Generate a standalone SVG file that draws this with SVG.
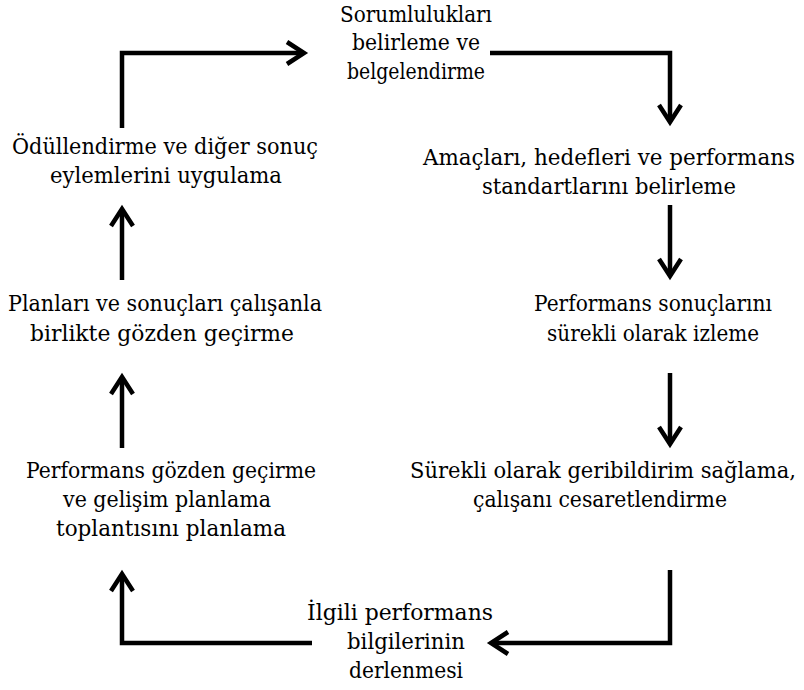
<svg xmlns="http://www.w3.org/2000/svg" width="804" height="690" viewBox="0 0 804 690">
<style>
.t text{font-family:'DejaVu Serif','Liberation Serif',serif;font-size:23px;fill:#000;text-anchor:middle}
.t text.w{font-size:21.5px}
.c{fill:none;stroke:#000;stroke-width:4.5;stroke-linejoin:miter;stroke-linecap:butt}
</style>
<defs>
<marker id="ah" viewBox="-25 -15 30 30" markerWidth="30" markerHeight="30" refX="0" refY="0" orient="auto" markerUnits="userSpaceOnUse" overflow="visible">
<path d="M-17,-11 L0,0 L-17,11" fill="none" stroke="#000" stroke-width="4.5"/>
</marker>
</defs>
<rect width="804" height="690" fill="#fff"/>
<g id="connectors">
<path class="c" d="M122,128 L122,53 L304,53" marker-end="url(#ah)"/>
<path class="c" d="M490,53 L670,53 L670,122" marker-end="url(#ah)"/>
<path class="c" d="M670,205 L670,276" marker-end="url(#ah)"/>
<path class="c" d="M670,373 L670,444" marker-end="url(#ah)"/>
<path class="c" d="M670,570 L670,643 L491,643" marker-end="url(#ah)"/>
<path class="c" d="M312,643 L122,643 L122,574" marker-end="url(#ah)"/>
<path class="c" d="M122,448 L122,377" marker-end="url(#ah)"/>
<path class="c" d="M122,280 L122,209" marker-end="url(#ah)"/>
</g>
<g class="t">
<g id="n1"><text x="416" y="22" textLength="152" lengthAdjust="spacingAndGlyphs">Sorumlulukları</text><text x="416" y="50" textLength="128" lengthAdjust="spacingAndGlyphs">belirleme ve</text><text x="416" y="79" textLength="138" lengthAdjust="spacingAndGlyphs">belgelendirme</text></g>
<g id="n2"><text class="w" x="609" y="165" textLength="372" lengthAdjust="spacingAndGlyphs">Amaçları, hedefleri ve performans</text><text x="609" y="194" textLength="254" lengthAdjust="spacingAndGlyphs">standartlarını belirleme</text></g>
<g id="n3"><text x="653" y="311" textLength="238" lengthAdjust="spacingAndGlyphs">Performans sonuçlarını</text><text x="653" y="341" textLength="212" lengthAdjust="spacingAndGlyphs">sürekli olarak izleme</text></g>
<g id="n4"><text class="w" x="603" y="478" textLength="386" lengthAdjust="spacingAndGlyphs">Sürekli olarak geribildirim sağlama,</text><text x="600" y="507" textLength="254" lengthAdjust="spacingAndGlyphs">çalışanı cesaretlendirme</text></g>
<g id="n5"><text x="400" y="620" textLength="186" lengthAdjust="spacingAndGlyphs">İlgili performans</text><text x="406" y="649" textLength="118" lengthAdjust="spacingAndGlyphs">bilgilerinin</text><text x="406" y="678" textLength="114" lengthAdjust="spacingAndGlyphs">derlenmesi</text></g>
<g id="n6"><text x="171" y="478" textLength="290" lengthAdjust="spacingAndGlyphs">Performans gözden geçirme</text><text x="167" y="507" textLength="208" lengthAdjust="spacingAndGlyphs">ve gelişim planlama</text><text x="171" y="536" textLength="230" lengthAdjust="spacingAndGlyphs">toplantısını planlama</text></g>
<g id="n7"><text x="165" y="311" textLength="314" lengthAdjust="spacingAndGlyphs">Planları ve sonuçları çalışanla</text><text x="162" y="341" textLength="264" lengthAdjust="spacingAndGlyphs">birlikte gözden geçirme</text></g>
<g id="n8"><text x="165" y="154" textLength="306" lengthAdjust="spacingAndGlyphs">Ödüllendirme ve diğer sonuç</text><text x="166" y="183" textLength="232" lengthAdjust="spacingAndGlyphs">eylemlerini uygulama</text></g>
</g>
</svg>
